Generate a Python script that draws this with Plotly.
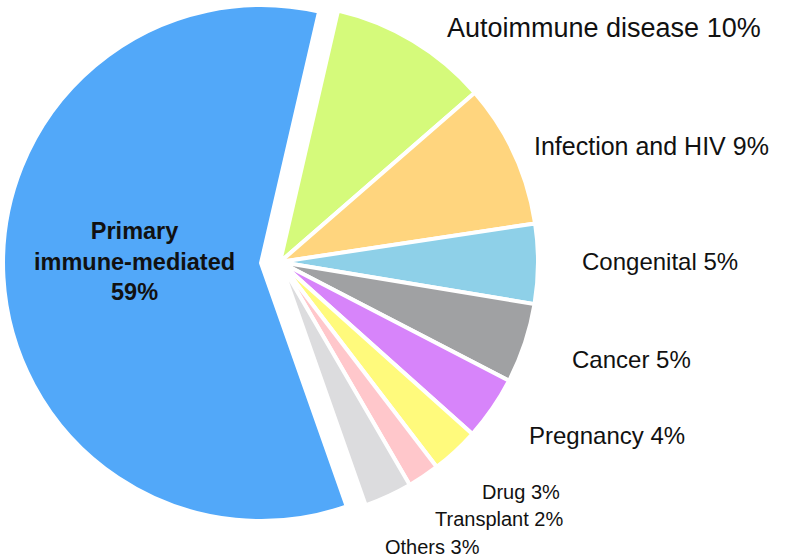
import math
import plotly.graph_objects as go

# ---- data ----
categories = ["Autoimmune disease", "Infection and HIV", "Congenital", "Cancer",
              "Pregnancy", "Drug", "Transplant", "Others", "Primary immune-mediated"]
values = [10, 9, 5, 5, 4, 3, 2, 3, 59]
colors = ["#D5FA7B", "#FFD57E", "#8ED0E8", "#A0A1A3", "#D784FA",
          "#FFFA7C", "#FFC7CB", "#DCDCDE", "#52A8F9"]
primary_label = "Primary<br>immune-mediated"

# ---- layout constants ----
W, H = 789, 557
CX, CY, R = 280, 262, 258          # pie centre / radius in px
PULL_PX = 19                       # offset of the pulled slice
ROTATION = 13
LINE_W = 4
FONT = "Liberation Sans, Arial, Helvetica, sans-serif"
# outside label anchor (left x, middle y) in px, and font size
label_pos = [(445, 28), (532, 146), (580, 262), (570, 359), (527, 435),
             (480, 492), (433, 519), (383, 547)]
label_size = [27, 25, 24, 24, 24, 20, 20, 20]
primary_pos = (134, 262)
primary_size = 23.5


def dom(cx, cy, r):
    return dict(x=[(cx - r) / W, (cx + r) / W],
                y=[1 - (cy + r) / H, 1 - (cy - r) / H])


n = len(values)
pulled = n - 1
total = sum(values)
start = ROTATION + 360 * sum(values[:pulled]) / total
mid = math.radians(start + 180 * values[pulled] / total)
bx = CX + PULL_PX * math.sin(mid)
by = CY - PULL_PX * math.cos(mid)

colA = [c if i != pulled else "rgba(0,0,0,0)" for i, c in enumerate(colors)]
lwA = [LINE_W if i != pulled else 0 for i in range(n)]
colB = [c if i == pulled else "rgba(0,0,0,0)" for i, c in enumerate(colors)]
lwB = [LINE_W if i == pulled else 0 for i in range(n)]

fig = go.Figure()
fig.add_trace(go.Pie(labels=categories, values=values, sort=False,
                     direction="clockwise", rotation=ROTATION,
                     marker=dict(colors=colA, line=dict(color="white", width=lwA)),
                     textinfo="none", hoverinfo="label+percent",
                     domain=dom(CX, CY, R), showlegend=False))
fig.add_trace(go.Pie(labels=categories, values=values, sort=False,
                     direction="clockwise", rotation=ROTATION,
                     marker=dict(colors=colB, line=dict(color="white", width=lwB)),
                     textinfo="none", hoverinfo="label+percent",
                     domain=dom(bx, by, R), showlegend=False))

annotations = []
for i in range(pulled):
    px, py = label_pos[i]
    annotations.append(dict(
        x=px / W, y=1 - py / H, xref="paper", yref="paper",
        xanchor="left", yanchor="middle", showarrow=False,
        text=f"{categories[i]} {values[i]}%",
        font=dict(family=FONT, size=label_size[i], color="#111111")))
annotations.append(dict(
    x=primary_pos[0] / W, y=1 - primary_pos[1] / H, xref="paper", yref="paper",
    xanchor="center", yanchor="middle", showarrow=False, align="center",
    text=f"<b>{primary_label}<br>{values[pulled]}%</b>",
    font=dict(family=FONT, size=primary_size, color="#111111")))

fig.update_layout(width=W, height=H, margin=dict(l=0, r=0, t=0, b=0),
                  paper_bgcolor="white", plot_bgcolor="white",
                  annotations=annotations, showlegend=False)
fig.write_html("out.html",
               config={"displayModeBar": False},
               post_script="document.body.style.margin='0';"
                           "document.body.style.overflow='hidden';")
